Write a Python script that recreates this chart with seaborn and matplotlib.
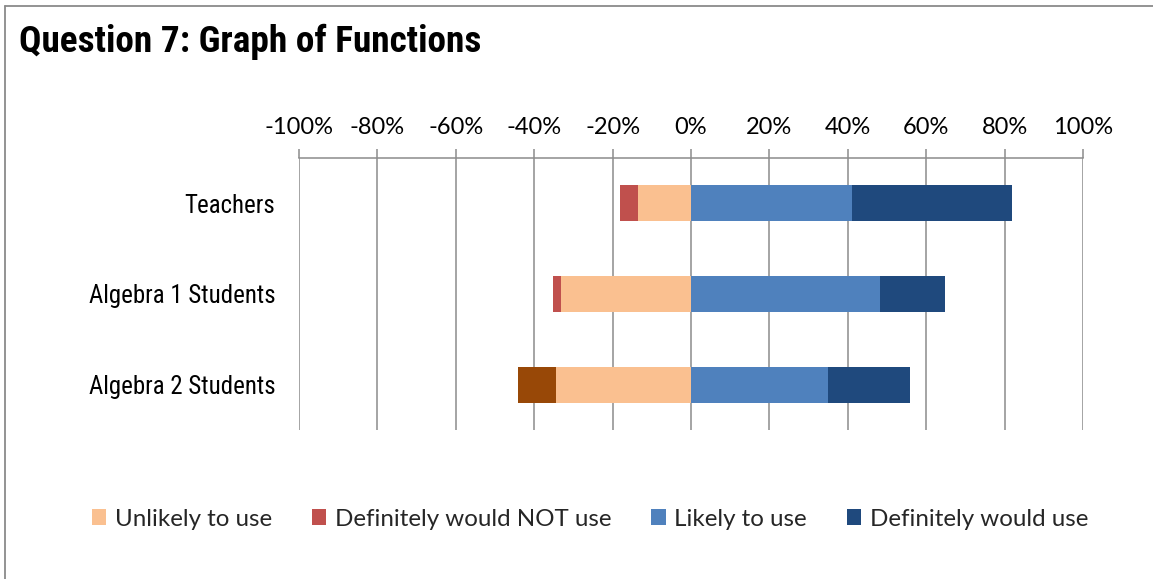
import numpy as np
import pandas as pd
import matplotlib
matplotlib.use("Agg")
import matplotlib.pyplot as plt
import seaborn as sns
from matplotlib.patches import Patch
from matplotlib.lines import Line2D
from matplotlib import font_manager
from matplotlib.font_manager import FontProperties

# ---- data (percent) ----
categories = ["Teachers", "Algebra 1 Students", "Algebra 2 Students"]
unlikely = [13.5, 33.2, 34.4]
definitely_not = [4.6, 2.1, 9.7]
likely = [41.1, 48.1, 34.9]
definitely = [40.9, 16.6, 20.9]
tick_values = [-100, -80, -60, -40, -20, 0, 20, 40, 60, 80, 100]
tick_labels = ["-100%", "-80%", "-60%", "-40%", "-20%", "0%", "20%", "40%", "60%", "80%", "100%"]
legend_labels = ["Unlikely to use", "Definitely would NOT use", "Likely to use", "Definitely would use"]

C_UNLIKELY = "#FAC090"
C_NOT = "#C0504D"
C_NOT_ALG2 = "#984807"
C_LIKELY = "#4F81BD"
C_DEF = "#1F497D"

sns.set_theme(style="white")
flist = font_manager.fontManager.ttflist
names = {f.name for f in flist}

def find_condensed(bold):
    cond = [f for f in flist
            if (f.stretch in ("condensed", "semi-condensed", "extra-condensed")
                or "Narrow" in f.name or "Condensed" in f.name)
            and "Mono" not in f.name and "Serif" not in f.name
            and "italic" not in f.style.lower() and "oblique" not in f.style.lower()]
    pref = ["Liberation Sans Narrow", "Arial Narrow", "Roboto Condensed", "DejaVu Sans",
            "Noto Sans", "Open Sans", "Noto Sans Condensed", "Open Sans Condensed"]
    def w(f):
        wt = f.weight if isinstance(f.weight, int) else (700 if "bold" in str(f.weight) else 400)
        return wt
    best = None
    for p in pref:
        c = [f for f in cond if f.name == p]
        if c:
            c.sort(key=lambda f: abs(w(f) - (700 if bold else 400)))
            best = c[0]
            break
    if best is None and cond:
        cond.sort(key=lambda f: abs(w(f) - (700 if bold else 400)))
        best = cond[0]
    return best

fr = find_condensed(False)
fb = find_condensed(True)
if fr is not None and fb is not None:
    FP_REG = FontProperties(fname=fr.fname)
    FP_BOLD = FontProperties(fname=fb.fname)
    nscale = 1.0
else:
    FP_REG = FontProperties(family="Liberation Sans")
    FP_BOLD = FontProperties(family="Liberation Sans", weight="bold")
    nscale = 0.82

BODY = "Lato" if "Lato" in names else "DejaVu Sans"
plt.rcParams["font.family"] = [BODY, "DejaVu Sans"]

df = pd.DataFrame({
    "cat": categories,
    "neg_total": -(np.array(unlikely) + np.array(definitely_not)),
    "neg_unlikely": -np.array(unlikely),
    "pos_total": np.array(likely) + np.array(definitely),
    "pos_likely": np.array(likely),
})

W, H = 1153, 579
fig = plt.figure(figsize=(W / 100, H / 100), dpi=100)
ax = fig.add_axes([299 / W, 1 - 430 / H, 784 / W, 272 / H])

bw = 0.4
sns.barplot(data=df, y="cat", x="neg_total", hue="cat", order=categories,
            palette=[C_NOT, C_NOT, C_NOT_ALG2], width=bw, linewidth=0,
            legend=False, ax=ax, orient="h")
sns.barplot(data=df, y="cat", x="neg_unlikely", order=categories, color=C_UNLIKELY,
            saturation=1, width=bw, linewidth=0, ax=ax, orient="h")
sns.barplot(data=df, y="cat", x="pos_total", order=categories, color=C_DEF,
            saturation=1, width=bw, linewidth=0, ax=ax, orient="h")
sns.barplot(data=df, y="cat", x="pos_likely", order=categories, color=C_LIKELY,
            saturation=1, width=bw, linewidth=0, ax=ax, orient="h")
for p in ax.patches:
    p.set_edgecolor("none")
for p, c in zip(ax.patches[:3], [C_NOT, C_NOT, C_NOT_ALG2]):
    p.set_facecolor(c)

ax.set_xlim(-100, 100)
ax.set_ylim(2.5, -0.5)
ax.set_xlabel("")
ax.set_ylabel("")
ax.set_axisbelow(True)
ax.xaxis.tick_top()
ax.set_xticks(tick_values)
ax.set_xticklabels(tick_labels, fontsize=17, color="black")
ax.tick_params(axis="x", which="both", direction="out", length=6.5, width=1.1,
               color="#8c8c8c", pad=8, top=True, bottom=False)
ax.grid(axis="x", color="#8c8c8c", linewidth=1.1)
ax.grid(axis="y", visible=False)
for s in ["left", "right", "bottom"]:
    ax.spines[s].set_visible(False)
ax.spines["top"].set_visible(True)
ax.spines["top"].set_color("#8c8c8c")
ax.spines["top"].set_linewidth(1.1)
ax.tick_params(axis="y", length=0, pad=17)
for lab in ax.get_yticklabels():
    lab.set_fontproperties(FP_REG)
    lab.set_fontsize(17.9 * nscale)
    lab.set_color("black")

title_fp = FP_BOLD.copy()
title_fp.set_size(26.8 * nscale)
if nscale != 1.0:
    title_fp.set_weight("bold")
fig.text(19 / W, 1 - 52 / H, "Question 7: Graph of Functions", fontproperties=title_fp,
         va="baseline", ha="left", color="black")

handles = [Patch(facecolor=c, edgecolor="none") for c in [C_UNLIKELY, C_NOT, C_LIKELY, C_DEF]]
fig.legend(handles, legend_labels, loc="center", bbox_to_anchor=(590 / W, 1 - 519 / H),
           ncol=4, frameon=False, fontsize=17.4, handlelength=0.6, handleheight=0.6,
           handletextpad=0.35, columnspacing=1.65, borderaxespad=0, borderpad=0)

# chart border (top and left visible)
fig.add_artist(Line2D([5 / W, 5 / W], [0, 1 - 6 / H], transform=fig.transFigure,
                      color="#8a8a8a", linewidth=1.3))
fig.add_artist(Line2D([5 / W, 1], [1 - 6 / H, 1 - 6 / H], transform=fig.transFigure,
                      color="#8a8a8a", linewidth=1.3))

fig.savefig("out.png", dpi=100, facecolor="white")
